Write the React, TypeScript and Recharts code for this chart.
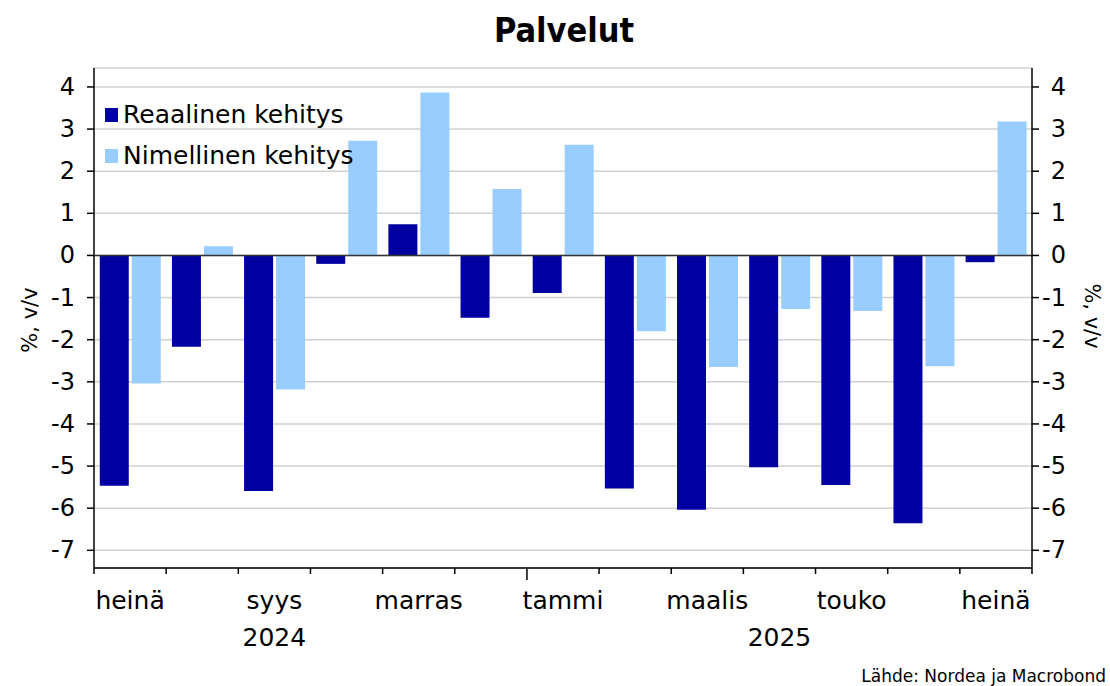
import React from 'react';
import { BarChart, Bar, XAxis, YAxis, CartesianGrid, ReferenceLine } from 'recharts';

const periods = ['2024-07', '2024-08', '2024-09', '2024-10', '2024-11', '2024-12', '2025-01', '2025-02', '2025-03', '2025-04', '2025-05', '2025-06', '2025-07'];
const monthLabels = ['heinä', 'elo', 'syys', 'loka', 'marras', 'joulu', 'tammi', 'helmi', 'maalis', 'huhti', 'touko', 'kesä', 'heinä'];
const realValues = [-5.47, -2.17, -5.59, -0.2, 0.74, -1.48, -0.89, -5.53, -6.04, -5.03, -5.45, -6.36, -0.16];
const nominalValues = [-3.04, 0.22, -3.18, 2.72, 3.87, 1.58, 2.63, -1.8, -2.65, -1.27, -1.32, -2.63, 3.18];
const yTicks = [-7, -6, -5, -4, -3, -2, -1, 0, 1, 2, 3, 4];
const yDomain = [-7.42, 4.45];
const yearLabels: Record<number, string> = { 2: '2024', 9: '2025' };
const seriesNames = ['Reaalinen kehitys', 'Nimellinen kehitys'];
const seriesColors = ['#0000A0', '#99CCFF'];

const data = periods.map((p, i) => ({ period: p, real: realValues[i], nominal: nominalValues[i] }));

const W = 1110;
const H = 686;
const PLOT_LEFT = 94;
const PLOT_RIGHT = 1032;
const PLOT_TOP = 68;
const FONT = '"DejaVu Sans", "Noto Sans", sans-serif';

const XTick = (props: any) => {
  const { x, y, payload } = props;
  const i = payload.index;
  const half = (PLOT_RIGHT - PLOT_LEFT) / periods.length / 2;
  const yearStart = periods[i].endsWith('-01');
  return (
    <g>
      <line x1={x - half} x2={x - half} y1={y} y2={y + (yearStart ? 12 : 6)} stroke="#000" strokeWidth={1.5} />
      {i === periods.length - 1 && (
        <line x1={x + half} x2={x + half} y1={y} y2={y + 6} stroke="#000" strokeWidth={1.5} />
      )}
      {i % 2 === 0 && (
        <text x={x} y={y + 41} textAnchor="middle" fontSize={25} fontFamily={FONT} fill="#000">
          {monthLabels[i]}
        </text>
      )}
      {yearLabels[i] && (
        <text x={x} y={y + 78} textAnchor="middle" fontSize={25} fontFamily={FONT} fill="#000">
          {yearLabels[i]}
        </text>
      )}
    </g>
  );
};

const LeftTick = (props: any) => {
  const { x, y, payload } = props;
  return (
    <text x={x} y={y} textAnchor="end" dominantBaseline="central" fontSize={24} fontFamily={FONT} fill="#000">
      {payload.value}
    </text>
  );
};

const RightTick = (props: any) => {
  const { x, y, payload } = props;
  return (
    <text x={x + 15} y={y} textAnchor="end" dominantBaseline="central" fontSize={24} fontFamily={FONT} fill="#000">
      {payload.value}
    </text>
  );
};

export default function App() {
  return (
    <div style={{ position: 'absolute', left: 0, top: 0, width: W, height: H, background: '#fff' }}>
      <BarChart
        width={W}
        height={H}
        data={data}
        margin={{ top: PLOT_TOP, right: 0, left: 0, bottom: 28 }}
        barCategoryGap="8%"
        barGap={3}
      >
        <CartesianGrid vertical={false} stroke="#d0d0d0" strokeWidth={1.5} />
        <XAxis
          dataKey="period"
          interval={0}
          tickSize={0}
          tickMargin={0}
          tickLine={false}
          height={90}
          axisLine={{ stroke: '#000', strokeWidth: 1.5 }}
          tick={<XTick />}
        />
        <YAxis
          width={PLOT_LEFT}
          type="number"
          domain={yDomain}
          ticks={yTicks}
          allowDataOverflow
          interval={0}
          tickSize={7}
          tickMargin={12}
          tickLine={{ stroke: '#000', strokeWidth: 1.5 }}
          axisLine={{ stroke: '#000', strokeWidth: 1.5 }}
          tick={<LeftTick />}
        />
        <YAxis
          yAxisId="right"
          orientation="right"
          width={W - PLOT_RIGHT}
          type="number"
          domain={yDomain}
          ticks={yTicks}
          allowDataOverflow
          interval={0}
          tickSize={7}
          tickMargin={12}
          tickLine={{ stroke: '#000', strokeWidth: 1.5 }}
          axisLine={{ stroke: '#000', strokeWidth: 1.5 }}
          tick={<RightTick />}
        />
        <ReferenceLine y={0} stroke="#333" strokeWidth={1.5} />
        <Bar dataKey="real" name={seriesNames[0]} fill={seriesColors[0]} isAnimationActive={false} />
        <Bar dataKey="nominal" name={seriesNames[1]} fill={seriesColors[1]} isAnimationActive={false} />
      </BarChart>
      <svg width={W} height={H} style={{ position: 'absolute', left: 0, top: 0, pointerEvents: 'none' }}>
        <text x={564} y={42} textAnchor="middle" fontSize={34} fontWeight="bold" fontFamily={'"DejaVu Sans Condensed", "DejaVu Sans", sans-serif'} fill="#000">
          Palvelut
        </text>
        {seriesNames.map((name, i) => (
          <g key={name}>
            <rect x={105} y={108 + i * 41} width={13} height={14} fill={seriesColors[i]} />
            <text x={123} y={123 + i * 41} fontSize={25} fontFamily={FONT} fill="#000">
              {name}
            </text>
          </g>
        ))}
        <text transform="translate(37, 320) rotate(-90)" textAnchor="middle" fontSize={21} fontFamily={FONT} fill="#000">
          %, v/v
        </text>
        <text transform="translate(1085, 316) rotate(90)" textAnchor="middle" fontSize={21} fontFamily={FONT} fill="#000">
          %, v/v
        </text>
        <text x={1106} y={682} textAnchor="end" fontSize={17} fontFamily={FONT} fill="#000">
          Lähde: Nordea ja Macrobond
        </text>
      </svg>
    </div>
  );
}
